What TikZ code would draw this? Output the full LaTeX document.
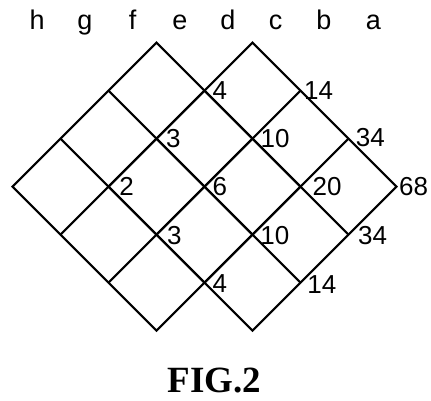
\documentclass[tikz,border=0pt]{standalone}
\usepackage{fontspec}
\setmainfont{Liberation Sans}
\newfontfamily\figfont{Liberation Serif}
\begin{document}
\begin{tikzpicture}[x=1pt,y=-1pt,
  gridline/.style={line width=2.1pt, line join=miter},
  num/.style={anchor=west, inner sep=0pt, font=\fontsize{26}{30}\selectfont},
  col/.style={anchor=base, inner sep=0pt, font=\fontsize{27}{30}\selectfont},
  caption/.style={anchor=base, inner sep=0pt, font=\figfont\bfseries\fontsize{37}{42}\selectfont}]
\useasboundingbox (0,0) rectangle (431,400);

% lattice points v<a><c>: a = steps down-right, c-1 = steps down-left
\foreach \a in {0,...,4}{
  \foreach \c in {0,...,4}{
    \coordinate (v\a\c) at ({156.5+48*(\a-\c+1)},{42.7+48*(\a+\c-1)});
  }
}

% left 3x3 diamond
\draw[gridline] (v01) -- (v31) -- (v34) -- (v04) -- cycle;
\draw[gridline] (v02) -- (v32);
\draw[gridline] (v03) -- (v33);
\draw[gridline] (v11) -- (v14);
\draw[gridline] (v21) -- (v24);

% right 3x3 diamond
\draw[gridline] (v10) -- (v40) -- (v43) -- (v13) -- cycle;
\draw[gridline] (v11) -- (v41);
\draw[gridline] (v12) -- (v42);
\draw[gridline] (v20) -- (v23);
\draw[gridline] (v30) -- (v33);

% column letters
\node[col] (ch) at (37.2,29.3) {h};
\node[col] (cg) at (85,29.3) {g};
\node[col] (cf) at (132.7,29.3) {f};
\node[col] (ce) at (180,29.3) {e};
\node[col] (cd) at (228,29.3) {d};
\node[col] (cc) at (275.7,29.3) {c};
\node[col] (cb) at (324,29.3) {b};
\node[col] (ca) at (373.3,29.3) {a};

% values at the lattice points
\node[num, xshift=7.8pt]  (n4t)  at (v11) {4};
\node[num, xshift=3.4pt]  (n14t) at (v20) {14};
\node[num, xshift=9.4pt]  (n3t)  at (v12) {3};
\node[num, xshift=8pt]    (n10t) at (v21) {10};
\node[num, xshift=7.1pt, yshift=1pt] (n34t) at (v30) {34};
\node[num, xshift=10.7pt] (n2)   at (v13) {2};
\node[num, xshift=7.8pt]  (n6)   at (v22) {6};
\node[num, xshift=12pt]   (n20)  at (v31) {20};
\node[num, xshift=2.5pt]  (n68)  at (v40) {68};
\node[num, xshift=10.4pt, yshift=-1pt] (n3b)  at (v23) {3};
\node[num, xshift=7.7pt, yshift=-0.5pt]  (n10b) at (v32) {10};
\node[num, xshift=9.4pt, yshift=-1pt]  (n34b) at (v41) {34};
\node[num, xshift=7.8pt, yshift=-0.5pt]  (n4b)  at (v33) {4};
\node[num, xshift=6.7pt, yshift=-1.5pt]  (n14b) at (v42) {14};

% figure caption
\node[caption] (fig) at (214.5,392) {FIG.2};
\end{tikzpicture}
\end{document}
